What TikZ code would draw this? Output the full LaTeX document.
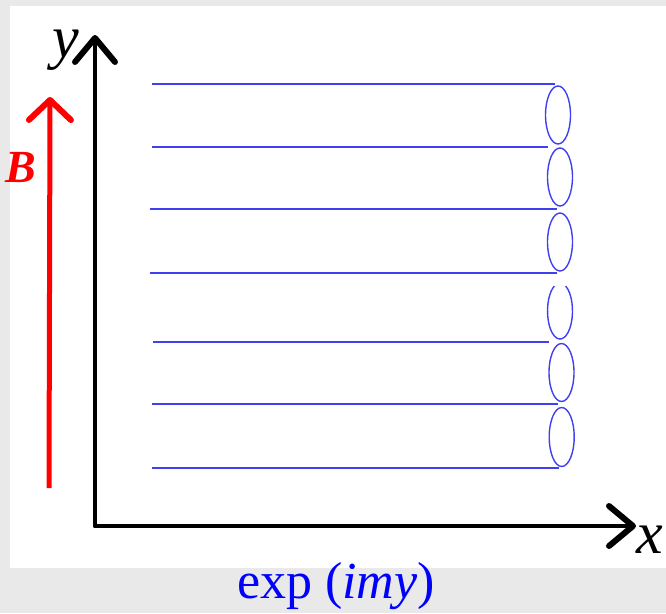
\documentclass[tikz,border=0pt]{standalone}
\usepackage{fontspec}
\setmainfont{Liberation Serif}
\usetikzlibrary{arrows.meta}
\definecolor{framegray}{RGB}{233,233,233}
\definecolor{lineblue}{RGB}{64,64,240}

\begin{document}
\begin{tikzpicture}[x=1pt, y=-1pt,
        axisline/.style={draw=black, line width=4pt, line cap=round, -{Straight Barb[length=24pt, width=40pt, line width'=6pt, round]}},
        bfield/.style={draw=red, line width=5pt, -{Straight Barb[length=20pt, width=42pt, line width'=6pt, round]}},
        fieldline/.style={draw=lineblue, line width=1.6pt},
        orbit/.style={draw=lineblue, line width=1.4pt},
        axislabel/.style={font=\fontsize{60}{66}\selectfont\itshape, anchor=base, inner sep=0pt}
    ]
        \fill[framegray] (0,0) rectangle (666,613);
        \fill[white] (10,6) rectangle (666,568);
        \coordinate (origin) at (95,526);
        \coordinate (ytip)   at (95,35);
        \coordinate (xtip)   at (636,526);
        \coordinate (btail)  at (49,488);
        \coordinate (btip)   at (50,97);
        \draw[axisline] (origin) -- (ytip);
        \draw[axisline] (origin) -- (xtip);
        \draw[bfield] (btail) -- (btip);
        \node[axislabel] (ylabel) at (66,57) {y};
        \node[axislabel] (xlabel) at (650,553) {x};
        \node[anchor=base, inner sep=0pt, text=red, font=\fontsize{46}{52}\selectfont\bfseries\itshape] (blabel) at (21,182) {B};
        \foreach \yy/\xa/\xb in {84/152/555, 147/152/548, 209/150/557, 273/150/557, 342/153/549, 404/152/558, 468/152/559}
            \draw[fieldline] (\xa,\yy) -- (\xb,\yy);
        \foreach \cx/\cy/\ry in {558/115/29, 560/177/29, 560/242/29, 561.5/372.5/29, 561.7/437/29.5}
            \draw[orbit] (\cx,\cy) ellipse [x radius=12.5, y radius=\ry];
        \draw[orbit] (560,311) ++(-63:12.5 and 28) arc [start angle=-63, end angle=243, x radius=12.5, y radius=28];
        \node[anchor=base, inner sep=0pt, text=blue, font=\fontsize{52}{58}\selectfont] (formula) at (336,598) {exp (\textit{imy})};
    \end{tikzpicture}
\end{document}
